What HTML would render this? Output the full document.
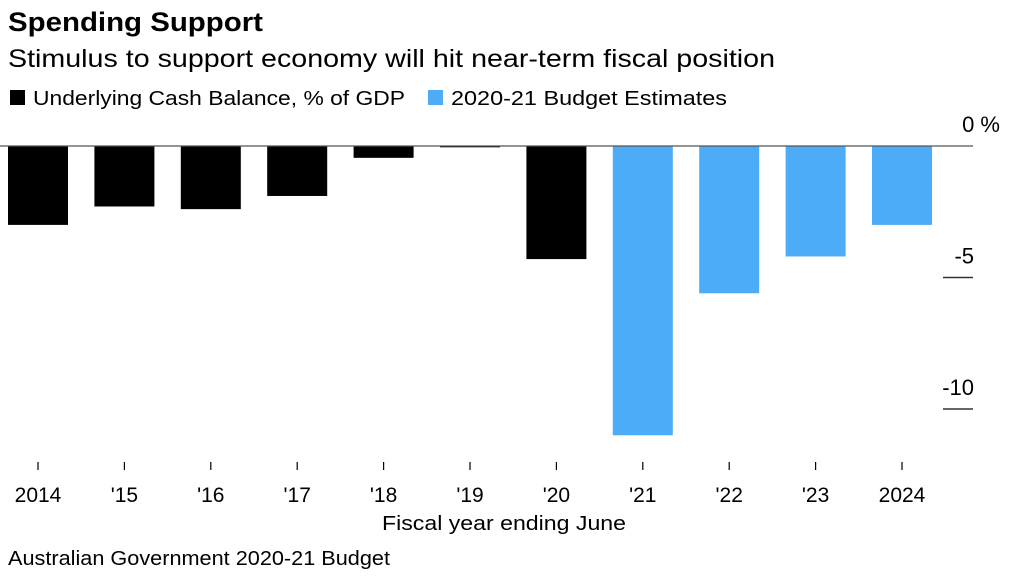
<!DOCTYPE html>
<html><head><meta charset="utf-8"><style>
body{margin:0;background:#fff;font-family:"Liberation Sans",sans-serif;}
svg text{font-family:"Liberation Sans",sans-serif;fill:#000}
</style></head><body>
<svg width="1012" height="580">
<text x="8" y="31" font-size="27" font-weight="bold" textLength="255" lengthAdjust="spacingAndGlyphs">Spending Support</text>
<text x="8" y="67" font-size="25" textLength="767" lengthAdjust="spacingAndGlyphs">Stimulus to support economy will hit near-term fiscal position</text>
<g>
<rect x="10" y="90" width="15" height="15" fill="#000"/>
<text x="33" y="105" font-size="20" textLength="372" lengthAdjust="spacingAndGlyphs">Underlying Cash Balance, % of GDP</text>
<rect x="428" y="90" width="15" height="15" fill="#4dacf7"/>
<text x="451" y="105" font-size="20" textLength="276" lengthAdjust="spacingAndGlyphs">2020-21 Budget Estimates</text>
</g>
<g id="plot"></g>
<text x="382" y="530" font-size="20" textLength="244" lengthAdjust="spacingAndGlyphs">Fiscal year ending June</text>
<text x="8" y="565" font-size="20" textLength="382" lengthAdjust="spacingAndGlyphs">Australian Government 2020-21 Budget</text>
</svg>
<script>
const categories=["2014","'15","'16","'17","'18","'19","'20","'21","'22","'23","2024"];
const values=[-3.0,-2.3,-2.4,-1.9,-0.45,-0.05,-4.3,-11.0,-5.6,-4.2,-3.0];
const estimate=[false,false,false,false,false,false,false,true,true,true,true];
const yTicks=[0,-5,-10];
const yTickLabels=["0 %","-5","-10"];
const NS="http://www.w3.org/2000/svg";
const g=document.getElementById('plot');
const y0=146, pxPer=26.3, x0=38, step=86.4, bw=60;
const y=v=>y0-v*pxPer;
const x=i=>x0+i*step;
function mk(t,a){const e=document.createElementNS(NS,t);for(const k in a)e.setAttribute(k,a[k]);g.appendChild(e);return e;}
values.forEach((v,i)=>{
 const r=mk('rect',{x:x(i)-bw/2,y:Math.min(y(v),y0),width:bw,height:Math.max(Math.abs(y(v)-y0),1),fill:estimate[i]?'#4dacf7':'#000'});
 
 
 const t=mk('line',{x1:x(i),x2:x(i),y1:462,y2:470,stroke:'#000','stroke-width':1.2});
 
 
 const l=mk('text',{x:x(i),y:502,'font-size':21,'text-anchor':'middle'});l.textContent=categories[i];
 
 
});
const zl=mk('line',{x1:0,x2:973,y1:y0,y2:y0,stroke:'#555','stroke-width':1.2});


yTicks.forEach((v,i)=>{
 if(v!==0){const t=mk('line',{x1:943,x2:973,y1:y(v),y2:y(v),stroke:'#333','stroke-width':1.5});
 
 }
 const l=mk('text',{x:v===0?1000:974,y:y(v)-14,'font-size':22,'text-anchor':'end'});l.textContent=yTickLabels[i];
 
 
});
</script>
</body></html>
